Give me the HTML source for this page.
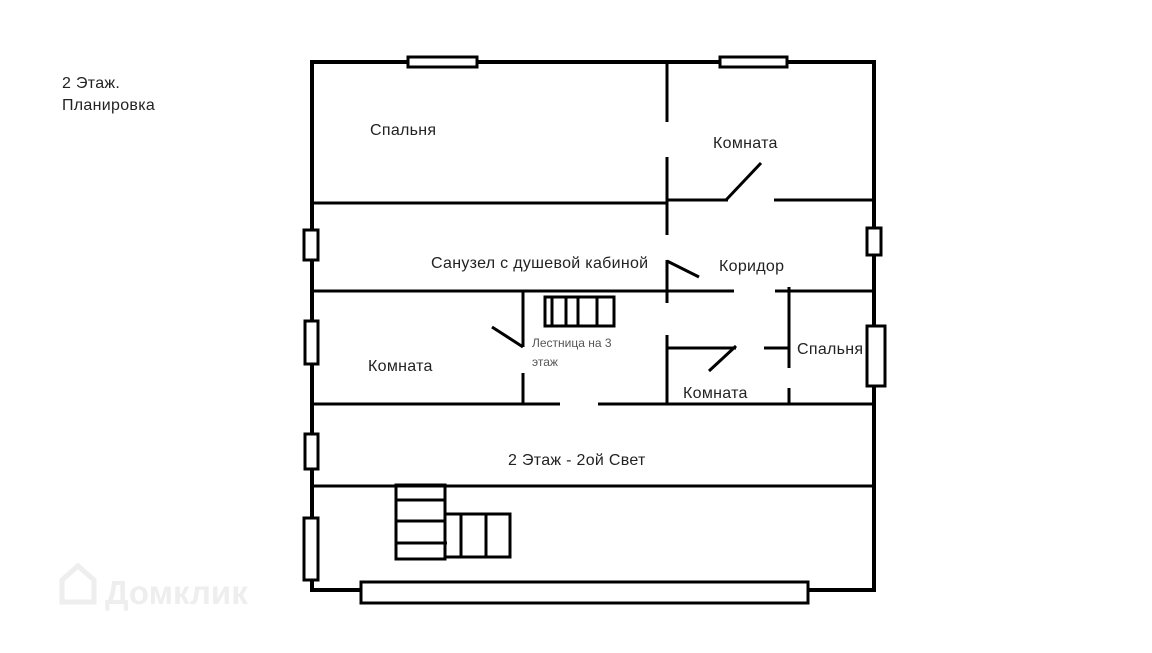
<!DOCTYPE html>
<html><head><meta charset="utf-8"><style>
body{margin:0;background:#fff;width:1152px;height:648px;overflow:hidden}
svg text{font-family:"Liberation Sans","DejaVu Sans",sans-serif;fill:#222}
</style></head><body>
<svg width="1152" height="648" viewBox="0 0 1152 648">
<g fill="none" stroke="#000" stroke-width="4">
<rect x="312" y="62" width="562" height="528"/>
</g>
<g fill="#fff" stroke="#000" stroke-width="3">
<rect x="408" y="57" width="69" height="10"/>
<rect x="720" y="57" width="67" height="10"/>
<rect x="304" y="230" width="14" height="30"/>
<rect x="305" y="321" width="13" height="43"/>
<rect x="305" y="434" width="13" height="35"/>
<rect x="304" y="518" width="14" height="62"/>
<rect x="867" y="228" width="14" height="27"/>
<rect x="867" y="326" width="18" height="60"/>
<rect x="361" y="582" width="447" height="21"/>
</g>
<g stroke="#000" stroke-width="3" fill="none">
<line x1="667" y1="62" x2="667" y2="122"/>
<line x1="667" y1="157" x2="667" y2="235"/>
<line x1="667" y1="260" x2="667" y2="303"/>
<line x1="667" y1="335" x2="667" y2="404"/>
<line x1="312" y1="203" x2="667" y2="203"/>
<line x1="667" y1="200" x2="728" y2="200"/>
<line x1="774" y1="200" x2="874" y2="200"/>
<line x1="726" y1="200" x2="761" y2="163"/>
<line x1="667" y1="261" x2="699" y2="277"/>
<line x1="312" y1="291" x2="734" y2="291"/>
<line x1="775" y1="291" x2="874" y2="291"/>
<line x1="789" y1="287" x2="789" y2="368"/>
<line x1="789" y1="388" x2="789" y2="404"/>
<line x1="667" y1="348" x2="736" y2="348"/>
<line x1="736" y1="346" x2="709" y2="371"/>
<line x1="764" y1="348" x2="789" y2="348"/>
<line x1="523" y1="291" x2="523" y2="347"/>
<line x1="523" y1="373" x2="523" y2="404"/>
<line x1="492" y1="327" x2="523" y2="347"/>
<line x1="312" y1="404" x2="560" y2="404"/>
<line x1="598" y1="404" x2="874" y2="404"/>
<line x1="312" y1="486" x2="874" y2="486"/>
<rect x="545" y="297" width="69" height="29"/>
<line x1="552" y1="297" x2="552" y2="326"/>
<line x1="566" y1="297" x2="566" y2="326"/>
<line x1="578" y1="297" x2="578" y2="326"/>
<line x1="597" y1="297" x2="597" y2="326"/>
<rect x="396" y="485" width="49" height="74"/>
<line x1="396" y1="500" x2="445" y2="500"/>
<line x1="396" y1="521" x2="445" y2="521"/>
<line x1="396" y1="543" x2="447" y2="543"/>
<rect x="445" y="514" width="65" height="43"/>
<line x1="461" y1="514" x2="461" y2="557"/>
<line x1="486" y1="514" x2="486" y2="557"/>
</g>
<g font-size="16" letter-spacing="0.3">
<text x="62" y="88">2 Этаж.</text>
<text x="62" y="110">Планировка</text>
<text x="370" y="135">Спальня</text>
<text x="713" y="148">Комната</text>
<text x="431" y="268">Санузел с душевой кабиной</text>
<text x="719" y="271">Коридор</text>
<text x="368" y="371">Комната</text>
<text x="683" y="398">Комната</text>
<text x="797" y="354">Спальня</text>
<text x="508" y="465">2 Этаж - 2ой Свет</text>
</g>
<text x="532" y="347" font-size="12" style="fill:#555">Лестница на 3</text>
<text x="532" y="366" font-size="12" style="fill:#555">этаж</text>
<text x="105" y="604" font-size="33" font-weight="bold" style="fill:#eee">Домклик</text>
<path d="M62 602 L62 580 L78 566 L94 580 L94 602 Z" fill="none" stroke="#eee" stroke-width="5"/>
</svg>
</body></html>
